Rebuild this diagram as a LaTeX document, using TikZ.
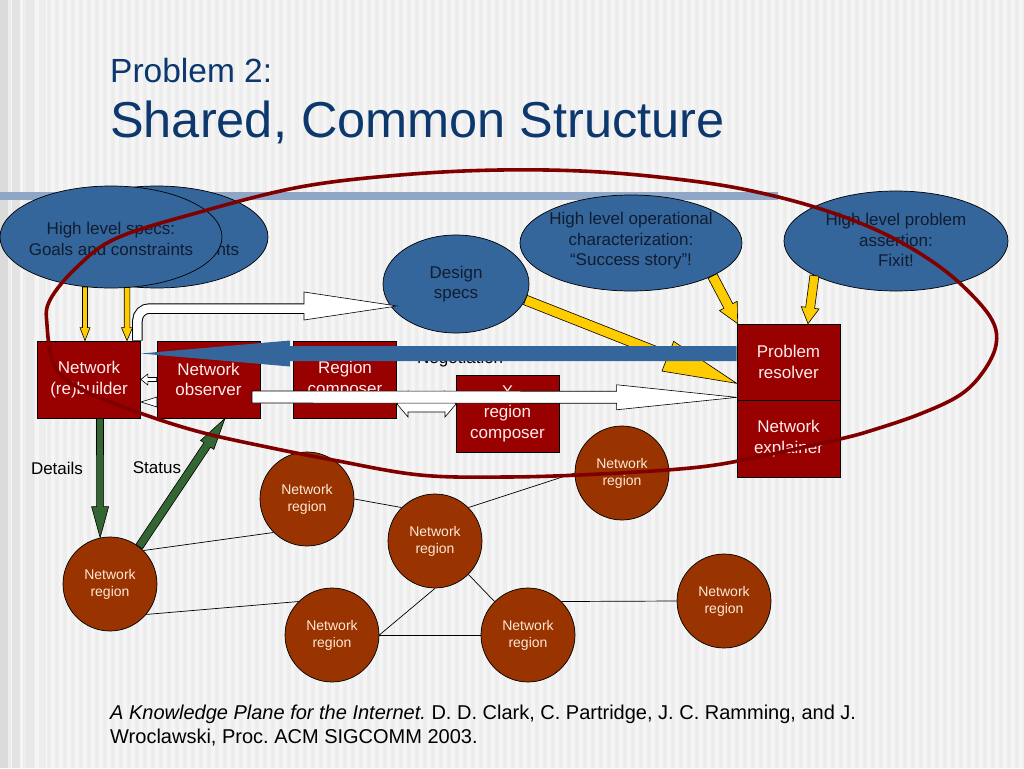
\documentclass[tikz,border=0pt]{standalone}
\usepackage{fontspec}
\setmainfont{Liberation Sans}
\usetikzlibrary{shapes.geometric,calc}
\definecolor{bggray}{RGB}{237,237,237}
\definecolor{bglight}{RGB}{245,245,245}
\definecolor{barblue}{RGB}{143,166,198}
\definecolor{titleblue}{RGB}{12,56,110}
\definecolor{ellblue}{RGB}{52,102,156}
\definecolor{elltxt}{RGB}{16,28,48}
\definecolor{boxred}{RGB}{153,0,0}
\definecolor{boxtxt}{RGB}{255,236,236}
\definecolor{netbrown}{RGB}{153,51,0}
\definecolor{nettxt}{RGB}{255,232,214}
\definecolor{ringred}{RGB}{128,0,0}
\definecolor{arrowyellow}{RGB}{255,204,0}
\definecolor{arrowgreen}{RGB}{51,102,51}
\definecolor{negblue}{RGB}{52,102,156}
% block arrow: style, start, tip, shaft half-width, head half-width, head length
\newcommand\blockarrow[6]{%
  \path[#1] ($(#2)!#4pt!90:(#3)$) -- ($(#3)!#6pt!(#2)!#4pt!-90:(#2)$)
    -- ($(#3)!#6pt!(#2)!#5pt!-90:(#2)$) -- (#3)
    -- ($(#3)!#6pt!(#2)!#5pt!90:(#2)$) -- ($(#3)!#6pt!(#2)!#4pt!90:(#2)$)
    -- ($(#2)!#4pt!-90:(#3)$) -- cycle;}
\frenchspacing
\begin{document}
\begin{tikzpicture}[x=1pt,y=-1pt,
  ell/.style={ellipse, draw=black, fill=ellblue, line width=0.7pt, inner sep=0pt},
  elltext/.style={font=\fontsize{17}{20.5}\selectfont, text=elltxt, align=center, inner sep=0pt},
  box/.style={rectangle, draw=black, fill=boxred, line width=0.7pt, minimum width=103pt, minimum height=77pt, inner sep=0pt, align=center, text=boxtxt, font=\fontsize{17}{20.5}\selectfont},
  netc/.style={circle, draw=black, fill=netbrown, line width=0.7pt, minimum size=94pt, inner sep=0pt, align=center, text=nettxt, font=\fontsize{14}{17}\selectfont},
  link/.style={draw=black, line width=0.7pt},
  yarr/.style={fill=arrowyellow, draw=black, line width=0.6pt},
  garr/.style={fill=arrowgreen, draw=black, line width=0.6pt},
  warr/.style={fill=white, draw=black, line width=0.6pt},
  barr/.style={fill=negblue},
  lbl/.style={font=\fontsize{17}{20}\selectfont, text=black, inner sep=0pt},
  citestyle/.style={anchor=base west, inner sep=0pt, font=\fontsize{20}{24}\selectfont},
  ring/.style={draw=ringred, line width=3.6pt}
]
\useasboundingbox (0,0) rectangle (1024,768);
% background
\fill[bggray] (0,0) rectangle (1024,768);
\foreach \i in {0,...,127} {\fill[bglight] ({\i*8+3},0) rectangle ++(4,768);}
\fill[black!14] (0,0) rectangle (8,768);
\fill[black!11] (12,0) rectangle (20,768);
\fill[black!9] (26,0) rectangle (34,768);
\fill[black!7] (40,0) rectangle (46,768);
\fill[barblue] (0,192) rectangle (778,200);
% title
\node[anchor=base west, inner sep=0pt, text=titleblue, font=\fontsize{33.5}{40}\selectfont] (t1) at (110,82) {Problem 2:};
\node[anchor=base west, inner sep=0pt, text=titleblue, font=\fontsize{50.5}{60}\selectfont] (t2) at (110,137) {Shared, Common Structure};
% citation
\node[citestyle] (cit1) at (110,719) {\textit{A Knowledge Plane for the Internet.} D. D. Clark, C. Partridge, J. C. Ramming, and J.};
\node[citestyle] (cit2) at (110,743) {Wroclawski, Proc. ACM SIGCOMM 2003.};
% network regions
\node[netc] (c1) at (110,584) {Network\\region};
\node[netc] (c2) at (307,499) {Network\\region};
\node[netc] (c3) at (435,541) {Network\\region};
\node[netc] (c4) at (622,473) {Network\\region};
\node[netc] (c5) at (332,635) {Network\\region};
\node[netc] (c6) at (528,635) {Network\\region};
\node[netc] (c7) at (724,601) {Network\\region};
\draw[link] (c1.45) -- (c2.225);
\draw[link] (c1.320) -- (c5.135);
\draw[link] (c2.0) -- (c3.135);
\draw[link] (c3.45) -- (c4.180);
\draw[link] (c3.270) -- (c5.0);
\draw[link] (c3.315) -- (c6.135);
\draw[link] (c5.0) -- (c6.180);
\draw[link] (c6.45) -- (c7.180);
% ellipses
\node[ell, minimum width=222pt, minimum height=102pt, label={[elltext, yshift=-2pt]center:{High level specs:\\Goals and constraints}}] (hlsb) at (157,237) {};
\node[ell, minimum width=222pt, minimum height=102pt, label={[elltext, yshift=-2pt]center:{High level specs:\\Goals and constraints}}] (hls) at (111,237) {};
\node[ell, minimum width=146pt, minimum height=98pt, label={[elltext]center:{Design\\specs}}] (ds) at (456,284) {};
\node[ell, minimum width=222pt, minimum height=96pt, label={[elltext, yshift=2pt]center:{High level operational\\characterization:\\“Success story”!}}] (hlo) at (631,243) {};
\node[ell, minimum width=224pt, minimum height=100pt, label={[elltext, yshift=1pt]center:{High level problem\\assertion:\\Fixit!}}] (hlp) at (896,241) {};
% boxes
\node[box] (bld) at (89,379.5) {Network\\(re)builder};
\node[box] (obs) at (208.5,379.5) {Network\\observer};
\node[box] (rc) at (345,379.5) {Region\\composer};
\node[box] (xrc) at (507.5,413.5) {X\\region\\composer};
\node[box, minimum height=76pt] (pr) at (788.5,362) {Problem\\resolver};
\node[box] (ne) at (788.5,438.5) {Network\\explainer};
% yellow arrows
\coordinate (ya1) at (85,287);
\coordinate (yb1) at (ya1 |- bld.north);
\coordinate (ya2) at (127,287.5);
\coordinate (yb2) at (ya2 |- bld.north);
\coordinate (yt3) at ($(pr.south west)+(0,-17)$);
\coordinate (yt4) at ($(pr.north west)+(1,0)$);
\coordinate (yt5) at ($(pr.north)+(19.5,0)$);
\blockarrow{yarr}{ya1}{yb1}{2.5}{5}{13}
\blockarrow{yarr}{ya2}{yb2}{2.8}{5.5}{13}
\blockarrow{yarr}{ds.-13}{yt3}{5}{16}{74}
\blockarrow{yarr}{hlo.-22}{yt4}{5}{10}{20}
\blockarrow{yarr}{hlp.203}{yt5}{4.5}{9}{16}
% white arrow builder -> design specs
\coordinate (dsa) at ($(bld.north east)+(-3.5,0)$);
\coordinate (dsb) at (137.5,308.5);
\coordinate (dsc) at (306,308.5);
\coordinate (dst) at (397,306);
\draw[black, line width=10.5pt, rounded corners=12pt] (dsa) -- (dsb) -- (dsc);
\draw[warr] (304,292) -- (dst) -- (304,320) -- cycle;
\draw[white, line width=8.5pt, rounded corners=12pt] ($(dsa)+(0,-0.5)$) -- (dsb) -- (306,308.5);
% small white arrows between observer and builder
\blockarrow{warr}{obs.west}{bld.east}{2}{5.5}{7}
\draw[warr] (157,397) -- (141,402) -- (157,407) -- cycle;
% green arrows
\coordinate (g1s) at ($(bld.south)+(11,0)$);
\coordinate (g2t) at ($(obs.south)+(16.5,0)$);
\blockarrow{garr}{g1s}{c1.102}{3.5}{8.5}{31}
\blockarrow{garr}{c1.52}{g2t}{4}{8}{32}
% labels
\node[lbl] (det) at (57,468) {Details};
\node[lbl] (sta) at (157,468) {Status};
\node[lbl, anchor=base west] (neg) at (417,363) {Negotiation};
% negotiation arrow
\coordinate (nb) at ($(pr.west)+(0,-8.5)$);
\coordinate (nbt) at (nb -| bld.east);
\blockarrow{barr}{nb}{nbt}{7.5}{13}{149}
% double arrow region composer <-> X region composer
\draw[warr] (397,404) -- (408,391) -- (408,396) -- (445,396) -- (445,391) -- (456,404)
  -- (445,417) -- (445,412) -- (408,412) -- (408,417) -- cycle;
% big white arrow
\coordinate (ws) at (252,397);
\coordinate (wt) at ($(pr.south west)+(0,-3)$);
\blockarrow{warr}{ws}{wt}{6}{12.5}{120}
% red ring
\draw[ring] plot[smooth cycle, tension=0.6] coordinates {
 (47,325) (50,300) (77,267) (117,238) (200,212) (300,187) (400,175) (500,170)
 (600,172) (700,182) (770,195) (833,213) (887,235) (933,262) (967,290) (992,320)
 (996,345) (983,372) (960,395) (920,414) (873,430) (840,439) (767,455) (700,467)
 (600,474) (507,477) (420,475) (333,460) (267,447) (200,432) (140,413) (83,390) (55,367)};
\end{tikzpicture}
\end{document}
